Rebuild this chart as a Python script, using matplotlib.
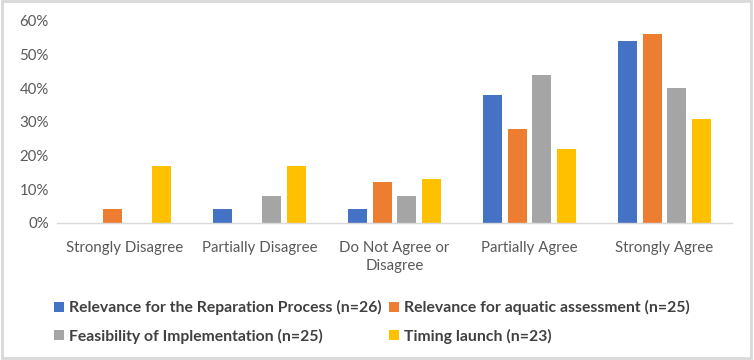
import numpy as np
import matplotlib.pyplot as plt
from matplotlib.patches import Rectangle

categories = ["Strongly Disagree", "Partially Disagree", "Do Not Agree or\nDisagree",
              "Partially Agree", "Strongly Agree"]
reparation = [0, 4, 4, 38, 54]
aquatic = [4, 0, 12, 28, 56]
feasibility = [0, 8, 8, 44, 40]
timing = [17, 17, 13, 22, 31]

series_names = ["Relevance for the Reparation Process (n=26)",
                "Relevance for aquatic assessment (n=25)",
                "Feasibility of Implementation (n=25)",
                "Timing launch (n=23)"]
colors = ["#4472C4", "#ED7D31", "#A5A5A5", "#FFC000"]

plt.rcParams['font.family'] = ['Lato', 'DejaVu Sans']

fig = plt.figure(figsize=(7.54, 3.6), dpi=100)
ax = fig.add_axes([0.0756, 0.381, 0.895, 0.5607])

x = np.arange(len(categories))
step = 0.182
width = 0.141
all_series = [reparation, aquatic, feasibility, timing]
bars = []
for i, vals in enumerate(all_series):
    b = ax.bar(x + (i - 1.5) * step, np.array(vals) / 100, width, color=colors[i],
               label=series_names[i])
    bars.append(b)

ax.set_xlim(-0.5, len(categories) - 0.5)
ax.set_ylim(0, 0.6)
ax.set_yticks(np.arange(0, 0.61, 0.1))
ax.set_yticklabels([f"{int(round(v * 100))}%" for v in np.arange(0, 0.61, 0.1)])
ax.set_xticks(x)
ax.set_xticklabels(categories, linespacing=1.35)
ax.tick_params(axis='both', length=0, labelsize=10.8, labelcolor="#595959")
ax.tick_params(axis='x', pad=13)
ax.tick_params(axis='y', pad=6)
for s in ["top", "right", "left"]:
    ax.spines[s].set_visible(False)
ax.spines["bottom"].set_color("#D9D9D9")
ax.spines["bottom"].set_linewidth(1)

# excel fills the legend row by row, matplotlib column by column
order = [0, 2, 1, 3]
fig.legend([bars[i] for i in order], [series_names[i] for i in order],
           loc="upper left", bbox_to_anchor=(0.053, 0.205), ncol=2, frameon=False,
           handlelength=0.6, handleheight=0.6, handletextpad=0.35,
           columnspacing=0.5, labelspacing=0.85,
           prop={"size": 11.3, "weight": "bold"}, labelcolor="#404040")

fig.patches.append(Rectangle((0.002, 0.006), 0.994, 0.99, transform=fig.transFigure,
                             fill=False, edgecolor="#D9D9D9", linewidth=2))

fig.savefig("out.png", dpi=100)
